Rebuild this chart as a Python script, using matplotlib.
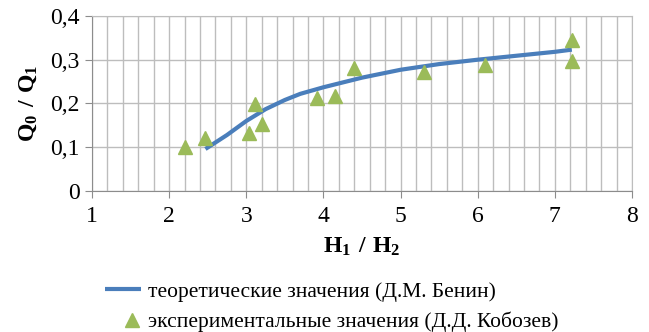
import numpy as np
import matplotlib.pyplot as plt
from matplotlib.ticker import MultipleLocator

plt.rcParams["font.family"] = "serif"
plt.rcParams["font.serif"] = ["Liberation Serif", "DejaVu Serif"]
plt.rcParams["mathtext.fontset"] = "custom"
plt.rcParams["mathtext.rm"] = "Liberation Serif"
plt.rcParams["mathtext.bf"] = "Liberation Serif:bold"

# theoretical curve (Benin)
theoryX = [2.47, 2.75, 3.0, 3.25, 3.5, 3.7, 4.0, 4.5, 5.0, 5.5, 6.0, 6.5, 7.0, 7.22]
theoryY = [0.096, 0.128, 0.160, 0.187, 0.208, 0.222, 0.237, 0.259, 0.277, 0.290, 0.300, 0.309, 0.318, 0.323]

# experimental points (Kobozev)
expX = [2.21, 2.47, 3.04, 3.11, 3.20, 3.91, 4.15, 4.39, 5.30, 6.10, 7.22, 7.22]
expY = [0.100, 0.120, 0.133, 0.198, 0.152, 0.213, 0.217, 0.282, 0.273, 0.289, 0.344, 0.297]

labels = ["теоретические значения (Д.М. Бенин)",
          "экспериментальные значения (Д.Д. Кобозев)"]

blue = "#4a7ebb"
green = "#9bbb59"
grid = "#bdbdbd"

fig = plt.figure(figsize=(6.49, 3.32), dpi=100)
ax = fig.add_axes([0.1418, 0.4247, 0.832, 0.5273])

line, = ax.plot(theoryX, theoryY, color=blue, lw=3, solid_capstyle="butt",
                solid_joinstyle="round", zorder=3)
pts, = ax.plot(expX, expY, ls="none", marker="^", ms=10.5, color=green, zorder=4)

ax.set_xlim(1, 8)
ax.set_ylim(0, 0.4)
ax.xaxis.set_major_locator(MultipleLocator(1))
ax.xaxis.set_minor_locator(MultipleLocator(0.2))
ax.grid(which="both", axis="x", color=grid, lw=1)
ax.grid(which="major", axis="y", color=grid, lw=1)
ax.set_axisbelow(True)
ax.set_yticks([0, 0.1, 0.2, 0.3, 0.4])
ax.set_yticklabels(["0", "0,1", "0,2", "0,3", "0,4"])
ax.tick_params(which="major", labelsize=17, length=5, color="#8c8c8c", pad=4)
ax.tick_params(axis="x", which="major", pad=6)
ax.tick_params(which="minor", length=0)
for s in ax.spines.values():
    s.set_color("#8c8c8c")
ax.spines["top"].set_color(grid)
ax.spines["right"].set_color(grid)

ax.set_xlabel(r"$\mathbf{H_1\ /\ H_2}$", fontsize=17, labelpad=6)
ax.set_ylabel(r"$\mathbf{Q_0\ /\ Q_1}$", fontsize=17, labelpad=8)

fig.legend([line], [labels[0]], loc="center left",
           bbox_to_anchor=(105 / 649, 1 - 292 / 332), frameon=False,
           fontsize=15.5, handlelength=1.68, handletextpad=0.33, borderpad=0,
           borderaxespad=0)
fig.legend([pts], [labels[1]], loc="center left",
           bbox_to_anchor=(122 / 649, 1 - 322 / 332), frameon=False,
           fontsize=15.5, handlelength=0.93, handletextpad=0.28, borderpad=0,
           borderaxespad=0)

fig.savefig("out.png", dpi=100)
